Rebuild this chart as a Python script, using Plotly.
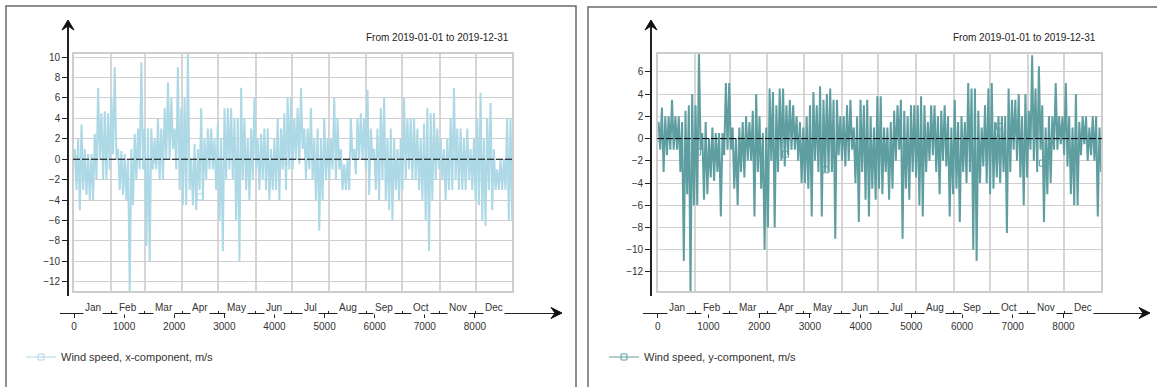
import numpy as np
import plotly.graph_objects as go

W, H = 1157, 387

# ---------------- data (132 bins per series, each bin = a high and a low) -------------
month_names = ["Jan", "Feb", "Mar", "Apr", "May", "Jun", "Jul", "Aug", "Sep", "Oct", "Nov", "Dec"]
month_bounds = [0, 744, 1416, 2160, 2880, 3624, 4344, 5088, 5832, 6552, 7296, 8016, 8760]
hour_ticks = [0, 1000, 2000, 3000, 4000, 5000, 6000, 7000, 8000]

wx_hi = [1, 2, 3.4, 1, 0.5, 0.5, 2.5, 7, 4.5, 4.7,
         4.5, 6, 9, 1, 0.8, 0.5, 0, 1, 2.5, 3, 9.5,
         3, 3, 3, 2, 4, 3, 5, 7.5, 6, 3, 9,
         5, 6, 10.4, 0, 1.5, 1, 5, 2, 3, 3, 2,
         3.5, 2, 5, 5, 5, 4, 4, 7, 4, 2, 3,
         6, 2, 2.5, 3, 3, 1, 2, 4, 3, 4.5, 6,
         6, 4, 5, 7, 3, 3, 5, 2, 3, 2, 4, 2,
         2, 6, 4, 1, -0.5, 0, 4, 1, 4, 4.5, 4,
         6.8, 3, 1, 3, 5, 6, 2, 3, 2, 1, 2,
         6, 4, 4, 4, 3, 2, 3.5, 5, 4.5, 4.5, 3,
         2, 1, 2, 4, 7, 3, 3, 2, 3, 1, 2,
         4, 6.5, 2, 4, 5.5, 1, -1, 0, 0, 4, 4]
wx_lo = [-3, -5, -3, -3.5, -4, -4, -2, 0, -2, -2,
         -1, 0.5, 0, -3, -3.5, -4, -13, -4.5, -2, -1, -1,
         -8.5, -10, -1, -1, -2, -2, 0, 0, 1, -1, -3,
         -4.5, -4.5, -3, -4.5, -5, -3, -4, -2, -1, -1, -3,
         -6, -9, -2, -1, -2, -6, -10, -2, -3, -4, -2,
         -1, -3, -2, -3, -4, -3, -3, -4, -1, -3, -1,
         -1, 0, -0.5, 1, -2, -1, -2, -4, -7, -4, -2, -2,
         -1, -2, -1, -3, -3, -3, 0, -1.5, 0, 0, -1,
         -3.5, 0, -3, -4, -2, -4, -5, -6, -3, -4, -3,
         -2, -1, -2, -2, -3, -4, -6, -9, -4, -2, -1,
         -2, -4, -3, -3, -2, -3, -3, -3, -2, -3, -4,
         -4.5, -6, -6.5, -3, -5, -3, -3, -3, -3, -6, -6]

wy_hi = [1.5, 2.8, 2, 2, 3.5, 2, 2, 1.5, 2.5, 3, 4,
         3, 7.7, 0.5, 1.5, 0, 1, 0.5, 0.5, 0.5, 5, 5,
         1, 0, 1, 1.5, 2, 1.5, 2.5, 4, 2, 0.5, 1,
         4.5, 4.2, 3, 4.5, 4.5, 3, 3.5, 3, 2, 1.5, 1,
         2, 3, 4.2, 3, 4.7, 3.5, 4, 4.5, 3.5, 3.5, 2,
         2, 3, 3.5, 1, 2, 3.5, 3, 3.5, 2, 1, 3.8,
         3.8, 1, 1, 1.5, 2.5, 3, 3.5, 2.5, 2, 3, 3,
         3, 3.8, 3, 1.5, 3, 3, 2, 2.5, 3, 2, 1,
         3.5, 1.5, 2, 1.5, 5, 4.5, 4.5, 2.5, 1, 3, 4.5,
         5, 1.5, 2, 2, 2, 4.5, 3.5, 3.5, 4, 2, 4,
         2.5, 7.5, 4.5, 6.5, 3, 1, 2, 2, 5, 2,
         2, 5, 2, 1, 4, 1.5, 2, 2, 1, 2, 2, 1]
wy_lo = [-1, -3, -1.5, -1, -1, -1, -3, -11, -5, -13.8, -6,
         -6, -1, -5.5, -5, -3.5, -3.8, -3, -7, -1.5, -1, -1,
         -4.5, -6, -3, -3.5, -2, -2, -7, -3, -4.5, -10, -8,
         -2, -8, -3, -2, -2.5, -1.5, -1, -1, -2, -4, -4,
         -4.5, -7, -2, -3, -7, -3, -3, -3, -9, -1.5, -2,
         -2.5, -2, -1, -4, -7.5, -3, -5.5, -7, -4.5, -5.5, -4.5,
         -5, -3, -5.5, -4.5, -2, -1, -9, -4.5, -5.5, -3, -3.5,
         -6, -7, -3, -2, -1.5, -3, -5, -2, -2.5, -7, -5,
         -4.5, -7.5, -3, -4, -3, -10, -11, -4, -2.5, -4, -5,
         -4.5, -3.5, -4, -3, -8.5, -3, -1, -2, -3.5, -6, -3.5,
         -1, -2, -3, -1, -7.5, -5, -4, -1, -1, -0.5,
         -1.5, -2.5, -5, -6, -6, -1.5, -0.5, -2, -1.5, -2, -7, -3]

# sparse open-square markers seen on the series
mx_hours = [0, 1670, 2515, 4225]
mx_vals = [0, -0.1, -3.7, -0.1]
my_hours = [0, 787, 2520, 3313, 6738, 7585]
my_vals = [0, -1.2, -1.4, -2.8, 1.1, -2.2]

x_color = "#ADD8E6"
y_color = "#5F9EA0"


def build(hi, lo):
    n = len(hi)
    step = 8760 / n
    hrs, vals = [], []
    for i in range(n):
        hrs += [(i + 0.25) * step, (i + 0.75) * step]
        vals += [hi[i], lo[i]]
    return hrs, vals


def px(x):
    return x / W


def py(y):
    return 1 - y / H


FONT = "Liberation Sans, Arial"
fig = go.Figure()

panels = [
    dict(hi=wx_hi, lo=wx_lo, color=x_color, name="Wind speed, x-component, m/s",
         mh=mx_hours, mv=mx_vals,
         L=73, R=513, T=53, B=292, xr=[-20, 8760], yr=[-13.0, 10.4],
         yticks=list(range(-12, 11, 2)), axx=68, axy=313, axl=60, axr=557, aytop=24,
         title_x=511, box=(6, 6, 576, 395), leg_x=21, leg="legend",
         xa="x", ya="y", xd="x3", yd="y3"),
    dict(hi=wy_hi, lo=wy_lo, color=y_color, name="Wind speed, y-component, m/s",
         mh=my_hours, mv=my_vals,
         L=657, R=1102, T=53, B=292, xr=[-14, 8760], yr=[-13.8, 7.7],
         yticks=list(range(-12, 7, 2)), axx=651, axy=313, axl=643, axr=1145, aytop=24,
         title_x=1098, box=(588, 7, 1170, 395), leg_x=604, leg="legend2",
         xa="x2", ya="y2", xd="x4", yd="y4"),
]

shapes = []
annotations = []
layout_axes = {}

for p in panels:
    hrs, vals = build(p["hi"], p["lo"])
    fig.add_trace(go.Scatter(x=hrs, y=vals, mode="lines", line=dict(color=p["color"], width=2),
                             xaxis=p["xa"], yaxis=p["ya"], showlegend=False, hoverinfo="skip"))
    fig.add_trace(go.Scatter(x=p["mh"], y=p["mv"], mode="markers",
                             marker=dict(symbol="square-open", size=6, color=p["color"], line=dict(width=1)),
                             xaxis=p["xa"], yaxis=p["ya"], showlegend=False, hoverinfo="skip"))
    # legend entry
    fig.add_trace(go.Scatter(x=[None], y=[None], mode="lines+markers", name=p["name"],
                             line=dict(color=p["color"], width=1),
                             marker=dict(symbol="square-open", size=6, color=p["color"]),
                             xaxis=p["xa"], yaxis=p["ya"], legend=p["leg"]))
    # decoration axes subplot
    fig.add_trace(go.Scatter(x=[None], y=[None], mode="lines", xaxis=p["xd"], yaxis=p["yd"],
                             showlegend=False, hoverinfo="skip"))

    L, R, T, B = p["L"], p["R"], p["T"], p["B"]
    sx = (R - L) / (p["xr"][1] - p["xr"][0])
    sy = (B - T) / (p["yr"][1] - p["yr"][0])
    xk = p["xa"].replace("x", "xaxis")
    yk = p["ya"].replace("y", "yaxis")
    layout_axes[xk] = dict(domain=[px(L), px(R)], range=p["xr"], anchor=p["ya"],
                           tickvals=month_bounds, showticklabels=False, ticks="",
                           showgrid=True, gridcolor="#d6d6d6", gridwidth=1.6,
                           zeroline=False, showline=False, fixedrange=True)
    layout_axes[yk] = dict(domain=[py(B), py(T)], range=p["yr"], anchor=p["xa"],
                           tick0=0, dtick=2, showticklabels=False, ticks="",
                           showgrid=True, gridcolor="#cfcfcf", gridwidth=1.2,
                           zeroline=False, showline=False, fixedrange=True)
    # decoration x axis (black line with hour ticks)
    dxr = [p["xr"][0] + (p["axl"] - L) / sx, p["xr"][0] + (p["axr"] - L) / sx]
    layout_axes[p["xd"].replace("x", "xaxis")] = dict(
        domain=[px(p["axl"]), px(p["axr"])], range=dxr, anchor="free", position=py(p["axy"]),
        showline=True, linecolor="#222", linewidth=1.3, ticks="outside", ticklen=4,
        tickcolor="#222", tickwidth=1, tickvals=hour_ticks, ticktext=[str(v) for v in hour_ticks],
        tickfont=dict(size=10, color="#333", family=FONT),
        minor=dict(tickvals=month_bounds[1:-1], ticks="inside", ticklen=2, tickcolor="#222"),
        showgrid=False, zeroline=False, fixedrange=True)
    # decoration y axis
    ybot = B + 4
    dyr = [p["yr"][0] - (ybot - B) / sy, p["yr"][1] + (T - p["aytop"]) / sy]
    layout_axes[p["yd"].replace("y", "yaxis")] = dict(
        domain=[py(ybot), py(p["aytop"])], range=dyr, anchor="free", position=px(p["axx"]),
        showline=True, linecolor="#222", linewidth=1.6, ticks="outside", ticklen=5,
        tickcolor="#222", tickwidth=1, tickvals=p["yticks"],
        tickfont=dict(size=10, color="#333", family=FONT),
        showgrid=False, zeroline=False, fixedrange=True)

    # plot-area frame
    shapes.append(dict(type="rect", xref=p["xa"] + " domain", yref=p["ya"] + " domain",
                       x0=0, x1=1, y0=0, y1=1, line=dict(color="#cdcdcd", width=2)))
    # zero line
    shapes.append(dict(type="line", xref=p["xa"] + " domain", yref=p["ya"], x0=0, x1=1, y0=0, y1=0,
                       line=dict(color="#000", width=1, dash="7px,2px")))
    # panel border
    bx0, by0, bx1, by1 = p["box"]
    shapes.append(dict(type="rect", xref="paper", yref="paper", x0=px(bx0), x1=px(bx1),
                       y0=py(by1), y1=py(by0), line=dict(color="#6a6a6a", width=1.5), layer="below"))
    # arrowheads
    ax, ay = p["axx"], p["aytop"]
    shapes.append(dict(type="path", xref="paper", yref="paper",
                       path=f"M {px(ax)},{py(ay - 4)} L {px(ax - 6)},{py(ay + 6)} L {px(ax)},{py(ay + 2)} "
                            f"L {px(ax + 6)},{py(ay + 6)} Z",
                       fillcolor="#111", line=dict(color="#111", width=1)))
    rx, ry = p["axr"], p["axy"]
    shapes.append(dict(type="path", xref="paper", yref="paper",
                       path=f"M {px(rx + 5)},{py(ry)} L {px(rx - 6)},{py(ry - 5.5)} L {px(rx - 2)},{py(ry)} "
                            f"L {px(rx - 6)},{py(ry + 5.5)} Z",
                       fillcolor="#111", line=dict(color="#111", width=1)))
    # month labels sitting on the axis line
    for i, m in enumerate(month_names):
        mid = (month_bounds[i] + month_bounds[i + 1]) / 2
        annotations.append(dict(x=mid, xref=p["xa"], y=py(307), yref="paper", text=m,
                                xanchor="center", yanchor="middle",
                                showarrow=False, bgcolor="white", borderpad=1,
                                font=dict(size=10, color="#333", family=FONT)))
    # period title
    annotations.append(dict(x=px(p["title_x"]), xref="paper", y=py(38), yref="paper",
                            xanchor="right", yanchor="middle", showarrow=False,
                            text="From 2019-01-01 to 2019-12-31",
                            font=dict(size=10, color="#222", family=FONT)))
    layout_axes[p["leg"]] = dict(x=px(p["leg_x"]), y=py(357), xanchor="left", yanchor="middle",
                                 bgcolor="rgba(0,0,0,0)", borderwidth=0,
                                 font=dict(size=11, color="#333", family=FONT))

fig.update_layout(
    width=W, height=H, margin=dict(l=0, r=0, t=0, b=0),
    paper_bgcolor="white", plot_bgcolor="rgba(0,0,0,0)",
    shapes=shapes, annotations=annotations, hovermode=False,
    **layout_axes,
)

fig.write_html("out.html")
